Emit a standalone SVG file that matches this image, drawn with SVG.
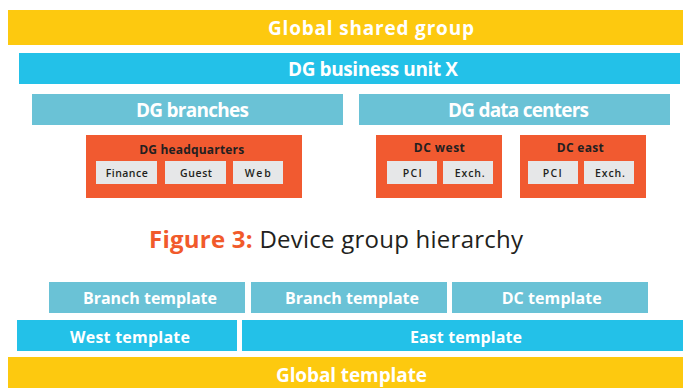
<svg xmlns="http://www.w3.org/2000/svg" width="683" height="388" viewBox="0 0 683 388">
<style>
.y{fill:#FDC90F}.b{fill:#23C1E8}.lb{fill:#6AC2D6}.o{fill:#F15A30}.g{fill:#E6E7E8}
.t{font-family:"Open Sans","Liberation Sans",sans-serif;font-weight:700;fill:#fff;text-anchor:middle}
.big{font-size:19px}.mid{font-size:16px}
.s{font-family:"Open Sans","Liberation Sans",sans-serif;fill:#231F20;text-anchor:middle}
.st{font-size:12px;font-weight:700}.sl{font-size:10.5px;font-weight:600}
</style>
<rect width="683" height="388" fill="#fff"/>
<g id="global-shared"><rect class="y" x="8" y="10" width="675" height="35"/><text class="t big" x="371" y="34.5" textLength="206" lengthAdjust="spacing">Global shared group</text></g>
<g id="bu-x"><rect class="b" x="19" y="53" width="661" height="31"/><text class="t big" x="373" y="75.5" textLength="170" lengthAdjust="spacing">DG business unit X</text></g>
<g id="branches"><rect class="lb" x="32" y="94" width="311" height="31"/><text class="t big" x="192.5" y="116.5" textLength="113" lengthAdjust="spacing">DG branches</text></g>
<g id="datacenters"><rect class="lb" x="359" y="94" width="311" height="31"/><text class="t big" x="518.5" y="116.5" textLength="141" lengthAdjust="spacing">DG data centers</text></g>
<g id="hq"><rect class="o" x="86" y="135" width="216" height="63"/><text class="s st" x="191.7" y="154" textLength="105" lengthAdjust="spacing">DG headquarters</text>
<rect class="g" x="96" y="161" width="61" height="23"/><text class="s sl" x="126.7" y="176.7" textLength="42" lengthAdjust="spacing">Finance</text>
<rect class="g" x="165" y="161" width="61" height="23"/><text class="s sl" x="196" y="176.7" textLength="32" lengthAdjust="spacing">Guest</text>
<rect class="g" x="233" y="161" width="50" height="23"/><text class="s sl" x="257.7" y="176.7" textLength="26" lengthAdjust="spacing">Web</text></g>
<g id="dc-west"><rect class="o" x="376" y="135" width="126" height="63"/><text class="s st" x="439.3" y="152" textLength="51" lengthAdjust="spacing">DC west</text>
<rect class="g" x="387" y="161" width="50" height="23"/><text class="s sl" x="412.2" y="176.7" textLength="19" lengthAdjust="spacing">PCI</text>
<rect class="g" x="443" y="161" width="50" height="23"/><text class="s sl" x="469.7" y="176.7" textLength="30" lengthAdjust="spacing">Exch.</text></g>
<g id="dc-east"><rect class="o" x="520" y="135" width="126" height="63"/><text class="s st" x="580.3" y="152" textLength="47" lengthAdjust="spacing">DC east</text>
<rect class="g" x="528" y="161" width="50" height="23"/><text class="s sl" x="552.3" y="176.7" textLength="19" lengthAdjust="spacing">PCI</text>
<rect class="g" x="584" y="161" width="50" height="23"/><text class="s sl" x="610" y="176.7" textLength="30" lengthAdjust="spacing">Exch.</text></g>
<text id="caption" x="336" y="248" text-anchor="middle" font-family="'Open Sans','Liberation Sans',sans-serif" font-size="24" fill="#231F20" textLength="374" lengthAdjust="spacing"><tspan fill="#F15A2B" font-weight="700">Figure 3:</tspan> Device group hierarchy</text>
<g id="branch-template-1"><rect class="lb" x="49" y="282" width="196" height="31"/><text class="t mid" x="150" y="304" textLength="134" lengthAdjust="spacing">Branch template</text></g>
<g id="branch-template-2"><rect class="lb" x="251" y="282" width="196" height="31"/><text class="t mid" x="352" y="304" textLength="134" lengthAdjust="spacing">Branch template</text></g>
<g id="dc-template"><rect class="lb" x="452" y="282" width="196" height="31"/><text class="t mid" x="551.7" y="304" textLength="100" lengthAdjust="spacing">DC template</text></g>
<g id="west-template"><rect class="b" x="17" y="320" width="220" height="31"/><text class="t mid" x="130" y="342.5" textLength="120" lengthAdjust="spacing">West template</text></g>
<g id="east-template"><rect class="b" x="242" y="320" width="441" height="31"/><text class="t mid" x="466" y="342.5" textLength="112" lengthAdjust="spacing">East template</text></g>
<g id="global-template"><rect class="y" x="8" y="357" width="675" height="31"/><text class="t big" x="351.5" y="381.5" textLength="151" lengthAdjust="spacing">Global template</text></g>
<g id="connectors"/>
</svg>
